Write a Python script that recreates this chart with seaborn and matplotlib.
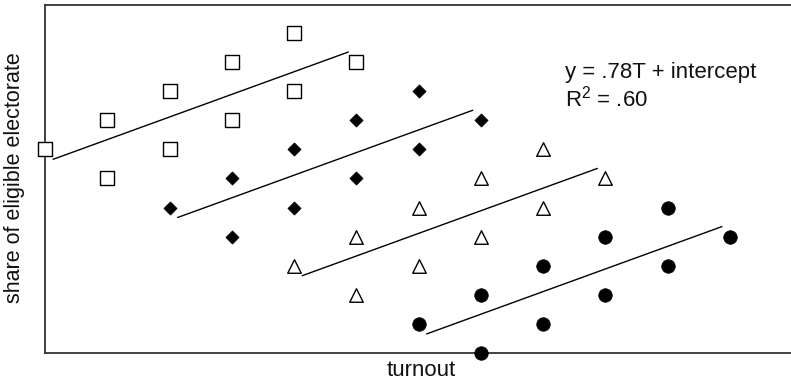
import numpy as np
import pandas as pd
import matplotlib
matplotlib.use("Agg")
import matplotlib.pyplot as plt
import seaborn as sns

sns.set_theme(style="white")
plt.rcParams["font.family"] = ["Liberation Sans", "DejaVu Sans"]
plt.rcParams["mathtext.fontset"] = "custom"
plt.rcParams["mathtext.rm"] = "Liberation Sans"

# Four groups of districts: turnout (T) vs share of eligible electorate
sq_turnout = [0, 1, 1, 2, 2, 3, 3, 4, 4, 5]
sq_share = [7, 8, 6, 9, 7, 10, 8, 11, 9, 10]

dm_turnout = [2, 3, 3, 4, 4, 5, 5, 6, 6, 7]
dm_share = [5, 6, 4, 7, 5, 8, 6, 9, 7, 8]

tr_turnout = [4, 5, 5, 6, 6, 7, 7, 8, 8, 9]
tr_share = [3, 4, 2, 5, 3, 6, 4, 7, 5, 6]

ci_turnout = [6, 7, 7, 8, 8, 9, 9, 10, 10, 11]
ci_share = [1, 2, 0, 3, 1, 4, 2, 5, 3, 4]

groups = ["A", "B", "C", "D"]
slope_text = "y = .78T + intercept"
r2_text = "R$^{\\mathrm{2}}$ = .60"

df = pd.concat([
    pd.DataFrame({"group": g, "turnout": t, "share": s})
    for g, t, s in zip(groups,
                       [sq_turnout, dm_turnout, tr_turnout, ci_turnout],
                       [sq_share, dm_share, tr_share, ci_share])
], ignore_index=True)

styles = {
    "A": dict(marker="s", s=95, facecolor="white", edgecolor="black", linewidth=1.0),
    "B": dict(marker="D", s=45, facecolor="black", edgecolor="black", linewidth=0.5),
    "C": dict(marker="^", s=95, facecolor="white", edgecolor="black", linewidth=1.0),
    "D": dict(marker="o", s=95, facecolor="black", edgecolor="black", linewidth=0.5),
}

fig = plt.figure(figsize=(7.91, 3.81), dpi=100)
ax = fig.add_axes([45 / 791, 28 / 381, 746 / 791, 348 / 381])

inset = 0.13
for g in groups:
    sub = df[df["group"] == g]
    st = styles[g]
    sns.scatterplot(data=sub, x="turnout", y="share", ax=ax, marker=st["marker"],
                    s=st["s"], color=st["facecolor"], edgecolor=st["edgecolor"],
                    linewidth=st["linewidth"], zorder=3, clip_on=False, legend=False)
    b, a = np.polyfit(sub["turnout"], sub["share"], 1)
    xs = np.array([sub["turnout"].min() + inset, sub["turnout"].max() - inset])
    sns.lineplot(x=xs, y=a + b * xs, ax=ax, color="black", linewidth=1.0, zorder=2)

ax.set_xlim(0, 11.98)
ax.set_ylim(0, 11.96)
ax.set_xticks([])
ax.set_yticks([])
ax.set_xlabel("")
ax.set_ylabel("")
for side in ["left", "bottom", "top"]:
    ax.spines[side].set_color("#333333")
    ax.spines[side].set_linewidth(1.3)
ax.spines["right"].set_visible(False)

ax.text(0.697, 0.790, slope_text, transform=ax.transAxes, fontsize=16,
        va="baseline", color="#111111")
ax.text(0.697, 0.707, r2_text, transform=ax.transAxes, fontsize=16,
        va="baseline", color="#111111")

fig.text(421 / 791, 1 - 376 / 381, "turnout", ha="center", va="baseline",
         fontsize=16, color="#111111")
fig.text(15 / 791, 1 - 178 / 381, "share of eligible electorate", ha="center", va="center",
         rotation=90, fontsize=15.5, color="#111111")

fig.savefig("out.png", dpi=100)
